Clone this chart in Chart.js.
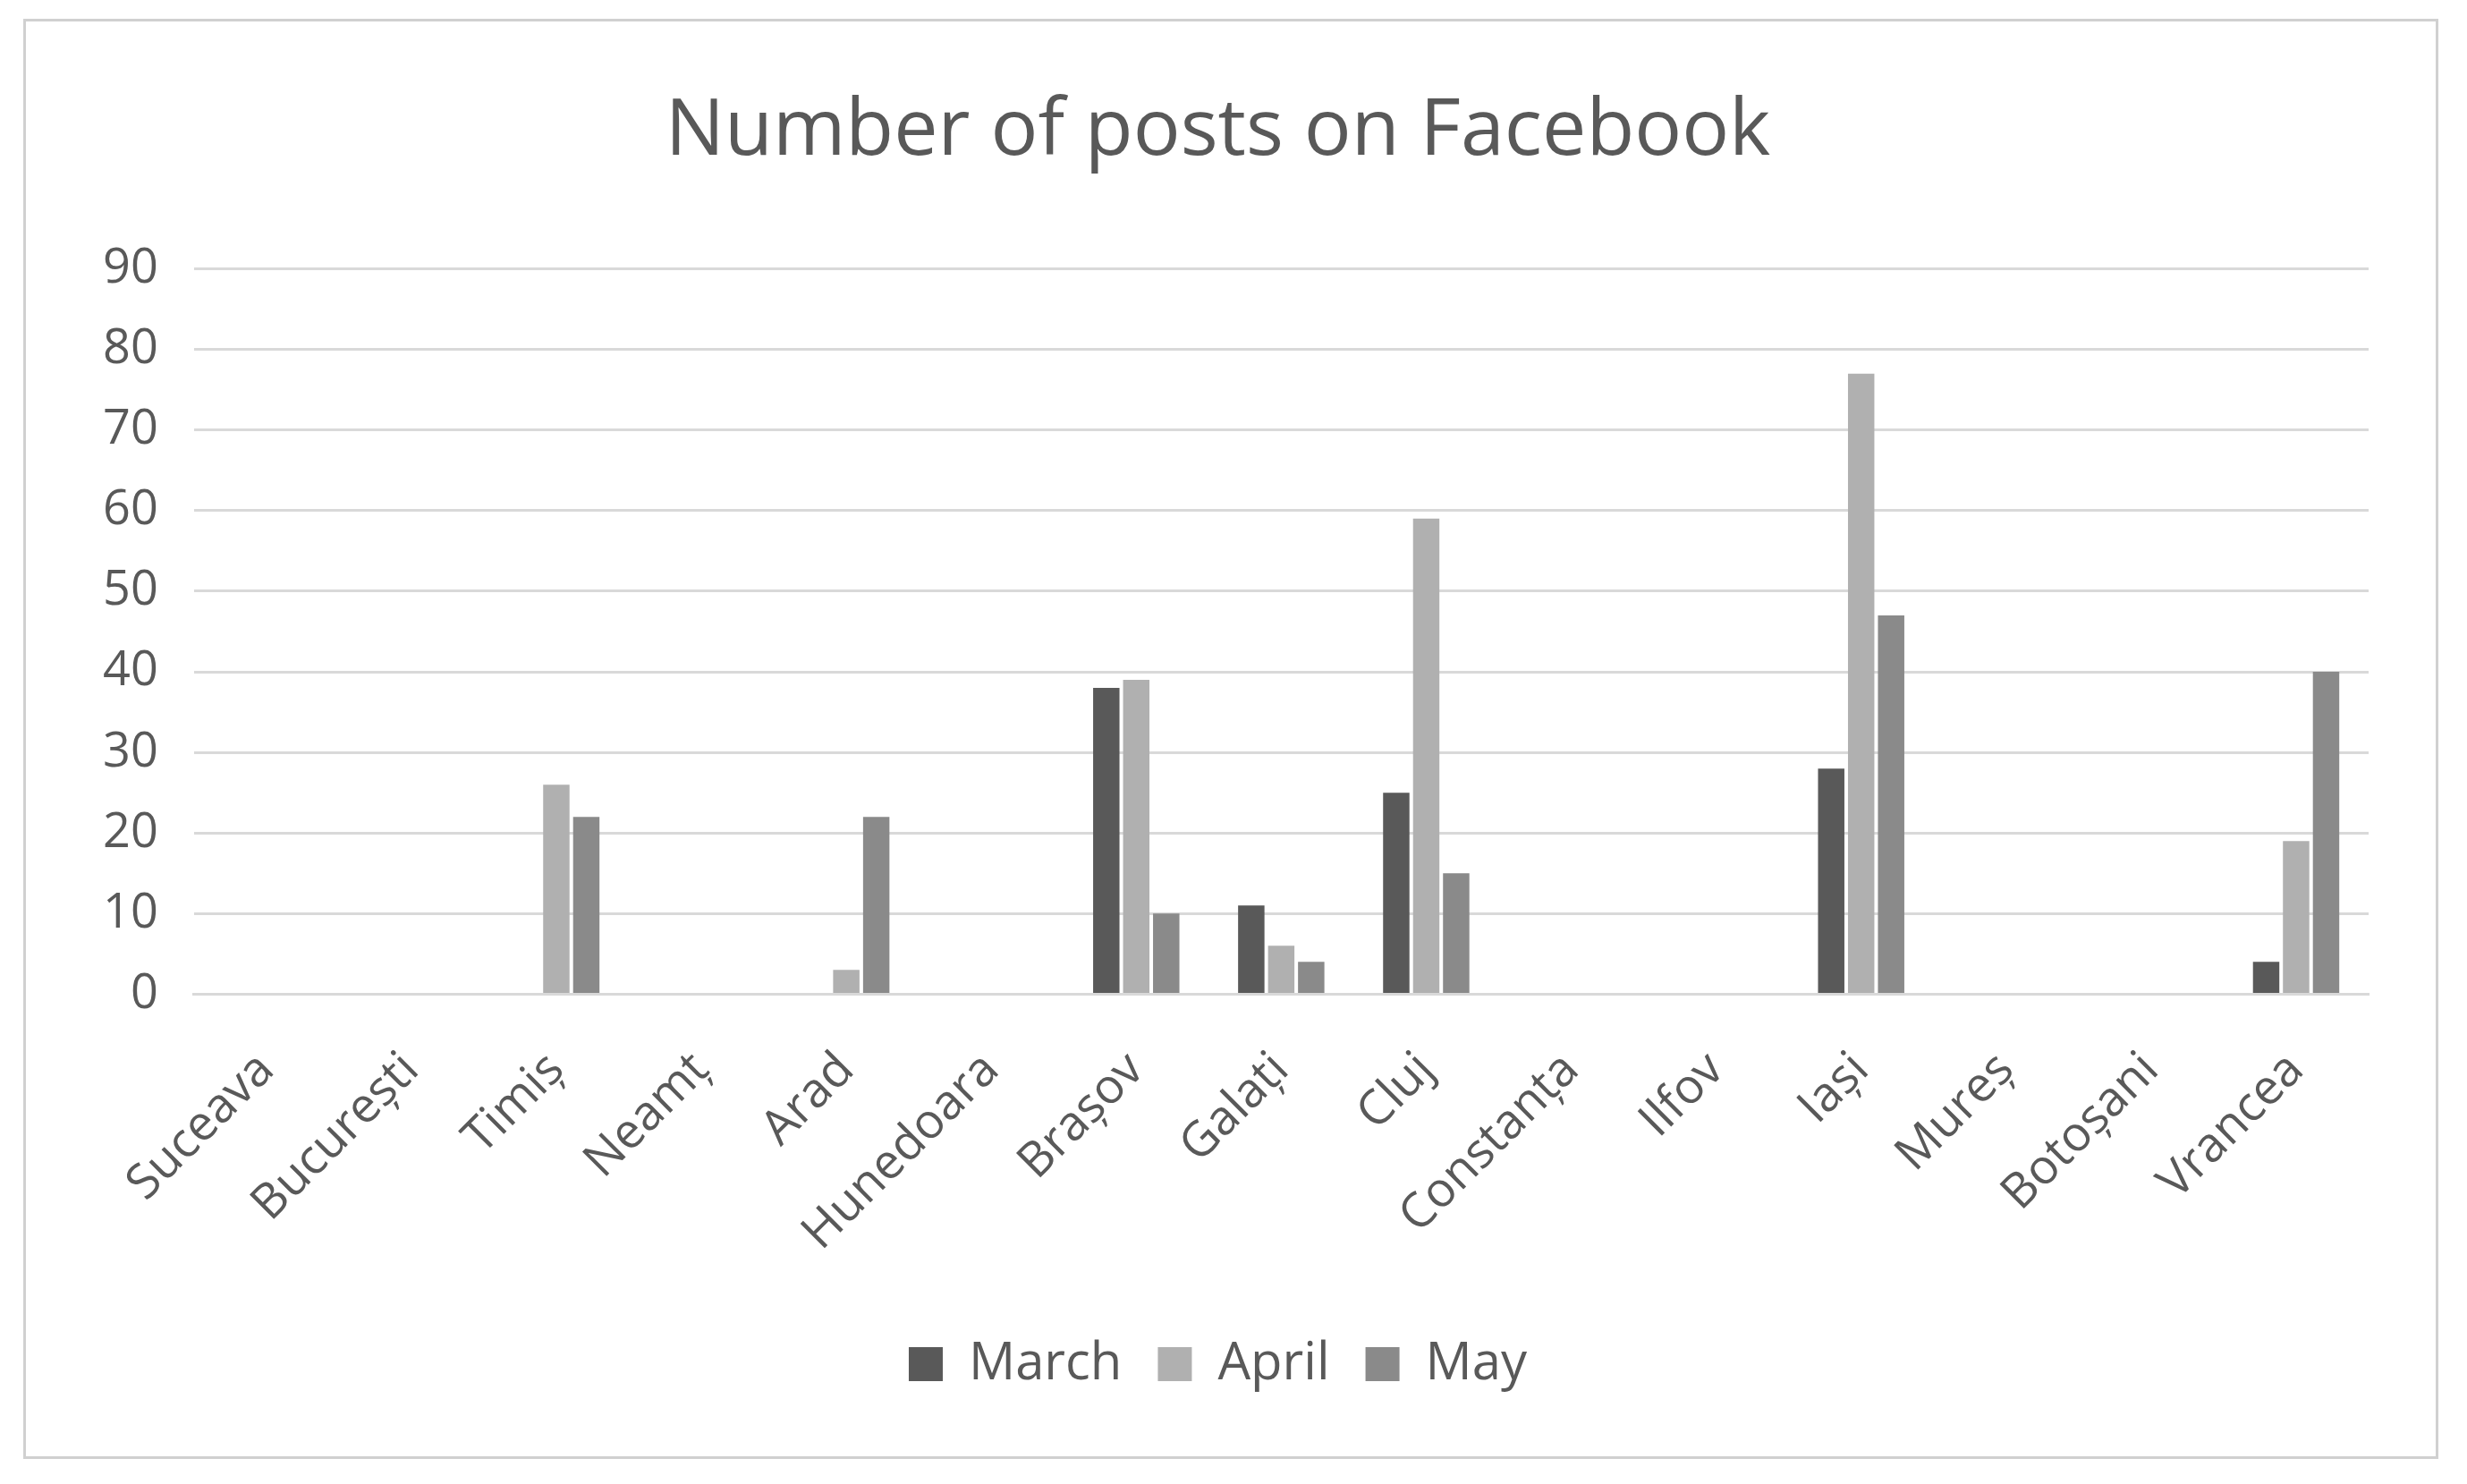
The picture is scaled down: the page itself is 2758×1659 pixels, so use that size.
<!DOCTYPE html>
<html><head><meta charset="utf-8">
<script src="https://cdn.jsdelivr.net/npm/chart.js@4"></script>
<style>
html,body{margin:0;padding:0;background:#fff;}
#frame{position:absolute;left:26px;top:21px;width:2700px;height:1610px;border:3px solid #d0d0d0;box-sizing:border-box;}
#wrap{position:absolute;left:0;top:0;width:2758px;height:1659px;}
</style></head><body>
<div id="frame"></div>
<div id="wrap"><canvas id="c"></canvas></div>
<script>
const categories=["Suceava","București","Timiș","Neamț","Arad","Hunedoara","Brașov","Galați","Cluj","Constanța","Ilfov","Iași","Mureș","Botoșani","Vrancea"];
const march=[0,0,0,0,0,0,38,11,25,0,0,28,0,0,4];
const april=[0,0,26,0,3,0,39,6,59,0,0,77,0,0,19];
const may=[0,0,22,0,22,0,10,4,15,0,0,47,0,0,40];
const yTicks=[0,10,20,30,40,50,60,70,80,90];
const F="'Open Sans','DejaVu Sans',sans-serif";
new Chart(document.getElementById('c'),{
 type:'bar',
 data:{labels:categories,datasets:[
  {label:'March',data:march,backgroundColor:'#595959'},
  {label:'April',data:april,backgroundColor:'#b0b0b0'},
  {label:'May',data:may,backgroundColor:'#8a8a8a'}]},
 options:{responsive:true,maintainAspectRatio:false,animation:false,
  layout:{padding:{left:75,right:110,top:95,bottom:95}},
  datasets:{bar:{categoryPercentage:0.62,barPercentage:0.88}},
  plugins:{
   title:{display:true,text:'Number of posts on Facebook',color:'#595959',font:{family:F,size:88,weight:'normal'},padding:{top:0,bottom:100}},
   legend:{position:'bottom',labels:{color:'#595959',font:{family:F,size:58},boxWidth:38,boxHeight:38,padding:40},align:'center'},
   tooltip:{enabled:false}},
  scales:{
   y:{min:0,max:90,afterBuildTicks:a=>{a.ticks=yTicks.map(v=>({value:v}));},
      ticks:{color:'#595959',font:{family:F,size:54},padding:40},
      grid:{color:'#d9d9d9',lineWidth:3,drawTicks:false},border:{display:false}},
   x:{ticks:{color:'#595959',font:{family:F,size:54},minRotation:45,maxRotation:45,padding:45},
      grid:{display:false},border:{color:'#d9d9d9',width:3}}
  }}
});
</script></body></html>
